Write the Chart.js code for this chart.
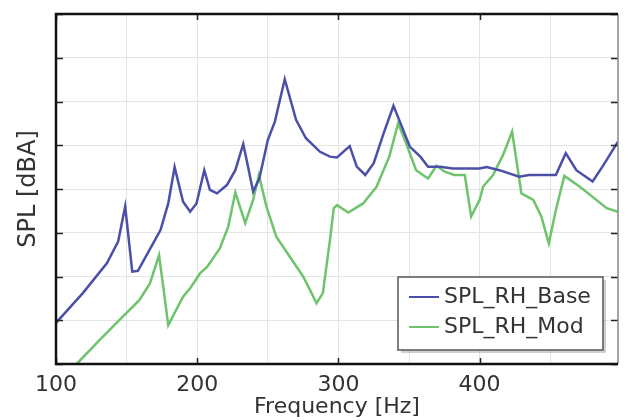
<!DOCTYPE html>
<html lang="en">

<head>
    <meta charset="UTF-8">
    <title>SPL</title>
    <script src="https://cdn.jsdelivr.net/npm/chart.js"></script>
    <style>
        body { margin: 0; background: #fff; }
        .chart-container { width: 628px; height: 420px; }
    </style>
</head>

<body>
    <div class="chart-container">
        <canvas id="splChart"></canvas>
    </div>
    <script>
        // Values (frequency in Hz, level in plot units 0..80)
        const freqBase = [100, 119, 136, 144, 149, 154, 158, 174, 179.5, 184, 190, 195, 199.5, 205, 209, 214, 221, 227, 232.6, 236, 239.6, 244, 250, 255, 262, 270, 277, 287, 294, 299, 308, 313, 319, 325, 332, 339, 345, 350.5, 358, 363.5, 372, 381, 400, 405, 414, 428, 435, 454, 461, 468.5, 480, 487, 498];
        const splBase = [9.4, 16.2, 23.0, 28.0, 36.0, 21.1, 21.3, 30.6, 36.7, 45.0, 37.1, 34.8, 36.7, 44.3, 39.8, 39.0, 40.9, 44.3, 50.3, 45.1, 39.4, 42.4, 51.2, 55.4, 65.1, 55.8, 51.6, 48.5, 47.4, 47.2, 49.8, 45.1, 43.2, 45.9, 52.7, 59.0, 54.2, 49.7, 47.4, 45.1, 45.1, 44.7, 44.7, 45.0, 44.3, 42.8, 43.2, 43.2, 48.2, 44.3, 41.7, 45.1, 50.8];

        const freqMod = [110, 114.6, 131, 145, 159, 166.5, 173, 179.5, 190, 195, 202, 207, 216, 222, 227, 234, 239.6, 243.7, 249, 256, 265.6, 275, 281, 284.5, 289, 294, 296.7, 299, 307, 317.5, 327, 336, 342.3, 348, 355, 363.5, 369.4, 375, 382, 389.5, 394, 400, 402.4, 409.5, 416.6, 423, 429.6, 438, 443.7, 449, 454, 460, 471, 480, 490, 498];
        const splMod = [-1.5, 0, 5.5, 10.1, 14.6, 18.4, 24.9, 8.9, 15.4, 17.3, 20.7, 22.2, 26.4, 31.4, 39.2, 32.2, 37.5, 43.2, 36.0, 29.1, 24.5, 20.0, 16.2, 13.9, 16.2, 28.3, 35.6, 36.3, 34.6, 36.7, 40.5, 47.4, 55.0, 50.4, 44.3, 42.4, 45.3, 44.0, 43.2, 43.2, 33.7, 37.5, 40.5, 43.2, 47.8, 53.1, 39.0, 37.5, 33.7, 27.6, 35.2, 43.0, 40.5, 38.2, 35.6, 34.8];

        const xGrid = [100, 150, 200, 250, 300, 350, 400, 450];
        const xLabels = [100, 200, 300, 400];
        const seriesNames = ['SPL_RH_Base', 'SPL_RH_Mod'];
        const seriesColors = ['#4b4fa8', '#6dc46d'];

        function toPoints(xs, ys) {
            return xs.map((x, i) => ({ x: x, y: ys[i] }));
        }

        // frame, inward tick marks and boxed legend
        const framePlugin = {
            id: 'frame',
            afterDraw(chart) {
                const ctx = chart.ctx;
                const a = chart.chartArea;
                const xs = chart.scales.x;
                const ys = chart.scales.y;
                ctx.save();

                // tick marks
                ctx.strokeStyle = '#222';
                ctx.lineWidth = 1.5;
                ys.ticks.forEach(t => {
                    const py = Math.round(ys.getPixelForValue(t.value)) + 0.5;
                    ctx.beginPath();
                    ctx.moveTo(a.left, py); ctx.lineTo(a.left + 7, py);
                    ctx.moveTo(a.right, py); ctx.lineTo(a.right - 7, py);
                    ctx.stroke();
                });
                xLabels.forEach(v => {
                    const px = Math.round(xs.getPixelForValue(v)) + 0.5;
                    ctx.beginPath();
                    ctx.moveTo(px, a.top); ctx.lineTo(px, a.top + 6);
                    ctx.moveTo(px, a.bottom); ctx.lineTo(px, a.bottom - 6);
                    ctx.stroke();
                });

                // borders
                ctx.strokeStyle = '#888';
                ctx.lineWidth = 1.5;
                ctx.beginPath();
                ctx.moveTo(a.right, a.top); ctx.lineTo(a.right, a.bottom);
                ctx.stroke();
                ctx.strokeStyle = '#111';
                ctx.lineWidth = 2.5;
                ctx.beginPath();
                ctx.moveTo(a.right, a.top);
                ctx.lineTo(a.left, a.top);
                ctx.lineTo(a.left, a.bottom);
                ctx.lineTo(a.right, a.bottom);
                ctx.stroke();

                // legend box
                const lx = 398, ly = 277, lw = 205, lh = 73;
                ctx.fillStyle = 'rgba(0,0,0,0.18)';
                ctx.fillRect(lx + 3, ly + 3, lw, lh);
                ctx.fillStyle = '#fff';
                ctx.fillRect(lx, ly, lw, lh);
                ctx.strokeStyle = '#555';
                ctx.lineWidth = 1.5;
                ctx.strokeRect(lx, ly, lw, lh);
                ctx.font = '22px "DejaVu Sans"';
                ctx.textBaseline = 'middle';
                seriesNames.forEach((name, i) => {
                    const yy = ly + 20 + i * 30;
                    ctx.strokeStyle = seriesColors[i];
                    ctx.lineWidth = 2;
                    ctx.beginPath();
                    ctx.moveTo(lx + 11, yy); ctx.lineTo(lx + 41, yy);
                    ctx.stroke();
                    ctx.fillStyle = '#333';
                    ctx.fillText(name, lx + 46, yy);
                });
                ctx.restore();
            }
        };

        const ctx = document.getElementById('splChart').getContext('2d');
        new Chart(ctx, {
            type: 'line',
            data: {
                datasets: [{
                    label: seriesNames[0],
                    data: toPoints(freqBase, splBase),
                    borderColor: seriesColors[0],
                    borderWidth: 2.5,
                    pointRadius: 0,
                    tension: 0
                }, {
                    label: seriesNames[1],
                    data: toPoints(freqMod, splMod),
                    borderColor: seriesColors[1],
                    borderWidth: 2.5,
                    pointRadius: 0,
                    tension: 0
                }]
            },
            options: {
                responsive: true,
                maintainAspectRatio: false,
                animation: false,
                layout: { padding: { top: 14, right: 10, left: 0, bottom: 0 } },
                plugins: {
                    legend: { display: false },
                    tooltip: { enabled: false }
                },
                scales: {
                    x: {
                        type: 'linear',
                        min: 100,
                        max: 498,
                        afterBuildTicks: s => { s.ticks = xGrid.map(v => ({ value: v })); },
                        afterFit: s => { s.height = 56; },
                        grid: { color: '#e4e4e4', drawTicks: false },
                        border: { display: false },
                        ticks: {
                            maxRotation: 0,
                            autoSkip: false,
                            padding: 8,
                            color: '#333',
                            font: { family: 'DejaVu Sans', size: 22 },
                            callback: v => xLabels.includes(v) ? String(v) : ''
                        },
                        title: {
                            display: true,
                            text: 'Frequency [Hz]',
                            color: '#333',
                            font: { family: 'DejaVu Sans', size: 22 },
                            padding: { top: 0, bottom: 0 }
                        }
                    },
                    y: {
                        min: 0,
                        max: 80,
                        afterFit: s => { s.width = 56; },
                        grid: { color: '#e4e4e4', drawTicks: false },
                        border: { display: false },
                        ticks: { stepSize: 10, display: false },
                        title: {
                            display: true,
                            text: 'SPL [dBA]',
                            color: '#333',
                            font: { family: 'DejaVu Sans', size: 24 },
                            padding: { top: 14, bottom: 0 }
                        }
                    }
                }
            },
            plugins: [framePlugin]
        });
    </script>
</body>

</html>
